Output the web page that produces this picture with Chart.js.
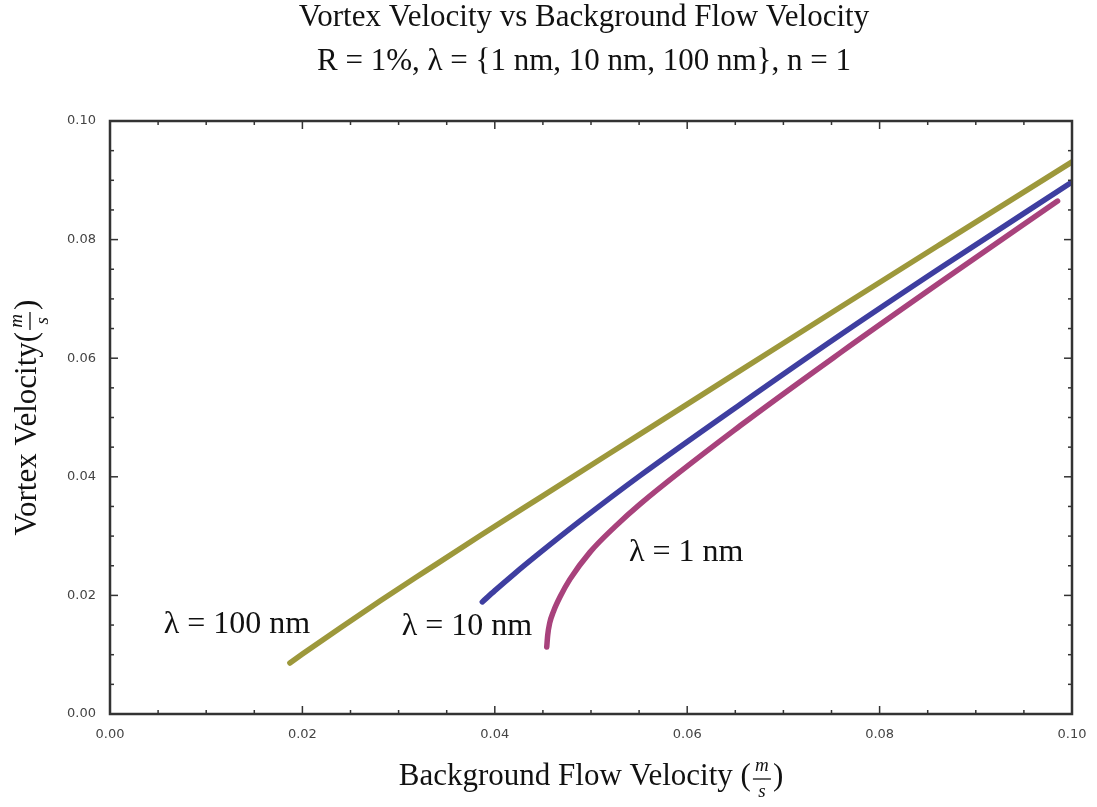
<!DOCTYPE html>
<html>
<head>
<meta charset="utf-8">
<script src="https://cdn.jsdelivr.net/npm/chart.js@4.4.0/dist/chart.umd.min.js"></script>
<style>
  body { margin: 0; background: #fff; }
</style>
</head>
<body>
<canvas id="myChart" width="1097" height="807"></canvas>
<script>
// curves (x: background flow velocity, y: vortex velocity)
const lam100X = [0.0187, 0.0200, 0.0240, 0.0281, 0.0330, 0.0385, 0.0447, 0.0551, 0.0655, 0.0759, 0.0863, 0.1000];
const lam100Y = [0.0086, 0.0101, 0.0146, 0.0191, 0.0243, 0.0301, 0.0365, 0.0472, 0.0579, 0.0686, 0.0792, 0.0931];

const lam10X = [0.0387, 0.0400, 0.0420, 0.0447, 0.0489, 0.0551, 0.0655, 0.0759, 0.0863, 0.1000];
const lam10Y = [0.0189, 0.0208, 0.0236, 0.0272, 0.0326, 0.0402, 0.0522, 0.0639, 0.0752, 0.0897];

const lam1X = [0.0454, 0.0455, 0.0457, 0.0461, 0.0468, 0.0478, 0.0499, 0.0525, 0.0551, 0.0655, 0.0759, 0.0863, 0.0985];
const lam1Y = [0.0113, 0.0133, 0.0153, 0.0173, 0.0198, 0.0227, 0.0273, 0.0316, 0.0354, 0.0486, 0.0609, 0.0728, 0.0865];

const seriesLabels = ['λ = 100 nm', 'λ = 10 nm', 'λ = 1 nm'];
const labelAnchorX = [0.0132, 0.0371, 0.0599];
const labelAnchorY = [0.0150, 0.0147, 0.0272];

const toPoints = (xs, ys) => xs.map((x, i) => ({ x: x, y: ys[i] }));
const isMajor = v => Math.round(v * 1000) % 20 === 0;
const tickLabel = v => isMajor(v) ? v.toFixed(2) : '';

// frame with inward ticks on all four sides
const frameTicks = {
  id: 'frameTicks',
  afterDatasetsDraw(chart) {
    const { ctx, chartArea: a, scales: { x, y } } = chart;
    ctx.save();
    ctx.strokeStyle = '#333';
    ctx.lineWidth = 1.5;
    const line = (x1, y1, x2, y2) => { ctx.beginPath(); ctx.moveTo(x1, y1); ctx.lineTo(x2, y2); ctx.stroke(); };
    x.ticks.forEach(t => {
      const px = x.getPixelForValue(t.value);
      const len = isMajor(t.value) ? 8 : 4;
      line(px, a.bottom, px, a.bottom - len);
      line(px, a.top, px, a.top + len);
    });
    y.ticks.forEach(t => {
      const py = y.getPixelForValue(t.value);
      const len = isMajor(t.value) ? 8 : 4;
      line(a.left, py, a.left + len, py);
      line(a.right, py, a.right - len, py);
    });
    ctx.lineWidth = 2.5;
    ctx.strokeRect(a.left, a.top, a.right - a.left, a.bottom - a.top);
    ctx.restore();
  }
};

// draws "text(m/s)" with a stacked fraction, centred on cx
function drawUnitTitle(ctx, text, cx, cy) {
  ctx.font = '31px "Liberation Serif"';
  const wText = ctx.measureText(text).width;
  const wFrac = 22;
  const wClose = ctx.measureText(')').width;
  let x0 = cx - (wText + wFrac + wClose) / 2;
  ctx.textBaseline = 'middle';
  ctx.textAlign = 'left';
  ctx.fillText(text, x0, cy);
  const fx = x0 + wText + wFrac / 2;
  ctx.font = 'italic 19px "Liberation Serif"';
  ctx.textAlign = 'center';
  ctx.fillText('m', fx, cy - 11);
  ctx.fillText('s', fx, cy + 15);
  ctx.beginPath();
  ctx.lineWidth = 1.3;
  ctx.moveTo(fx - 9, cy + 2);
  ctx.lineTo(fx + 9, cy + 2);
  ctx.stroke();
  ctx.font = '31px "Liberation Serif"';
  ctx.textAlign = 'left';
  ctx.fillText(')', x0 + wText + wFrac, cy);
}

const textLayer = {
  id: 'textLayer',
  afterDraw(chart) {
    const { ctx, chartArea: a, scales: { x, y } } = chart;
    ctx.save();
    ctx.fillStyle = '#111';
    ctx.strokeStyle = '#111';
    ctx.textAlign = 'center';
    ctx.textBaseline = 'middle';
    ctx.font = '31px "Liberation Serif"';
    ctx.fillText('Vortex Velocity vs Background Flow Velocity', 584, 18);
    ctx.fillText('R = 1%, λ = {1 nm, 10 nm, 100 nm}, n = 1', 584, 62);

    // curve labels
    ctx.font = '32px "Liberation Serif"';
    seriesLabels.forEach((s, i) => {
      ctx.fillText(s, x.getPixelForValue(labelAnchorX[i]), y.getPixelForValue(labelAnchorY[i]));
    });

    // axis titles
    drawUnitTitle(ctx, 'Background Flow Velocity (', (a.left + a.right) / 2, 777);
    ctx.save();
    ctx.translate(28, (a.top + a.bottom) / 2);
    ctx.rotate(-Math.PI / 2);
    drawUnitTitle(ctx, 'Vortex Velocity(', 0, 0);
    ctx.restore();
    ctx.restore();
  }
};

const tickFont = { family: 'DejaVu Sans', size: 13 };

new Chart(document.getElementById('myChart'), {
  type: 'scatter',
  data: {
    datasets: [{
      label: seriesLabels[0],
      data: toPoints(lam100X, lam100Y),
      borderColor: '#9d983b',
      backgroundColor: '#9d983b'
    }, {
      label: seriesLabels[1],
      data: toPoints(lam10X, lam10Y),
      borderColor: '#3e3ea0',
      backgroundColor: '#3e3ea0'
    }, {
      label: seriesLabels[2],
      data: toPoints(lam1X, lam1Y),
      borderColor: '#a8427c',
      backgroundColor: '#a8427c'
    }]
  },
  options: {
    responsive: false,
    animation: false,
    showLine: true,
    elements: {
      line: { borderWidth: 5.5, cubicInterpolationMode: 'monotone', borderCapStyle: 'round' },
      point: { radius: 0 }
    },
    layout: { padding: { top: 121, right: 25, left: 0, bottom: 0 } },
    plugins: {
      legend: { display: false },
      tooltip: { enabled: false }
    },
    scales: {
      x: {
        type: 'linear',
        min: 0,
        max: 0.1,
        grid: { display: false },
        border: { display: false },
        ticks: {
          stepSize: 0.005,
          autoSkip: false,
          maxRotation: 0,
          padding: 5,
          color: '#444',
          font: tickFont,
          callback: tickLabel
        },
        afterFit(s) { s.height = 93; }
      },
      y: {
        type: 'linear',
        min: 0,
        max: 0.1,
        grid: { display: false },
        border: { display: false },
        ticks: {
          stepSize: 0.005,
          autoSkip: false,
          padding: 6,
          color: '#444',
          font: tickFont,
          callback: tickLabel
        },
        afterFit(s) { s.width = 110; }
      }
    }
  },
  plugins: [frameTicks, textLayer]
});
</script>
</body>
</html>
